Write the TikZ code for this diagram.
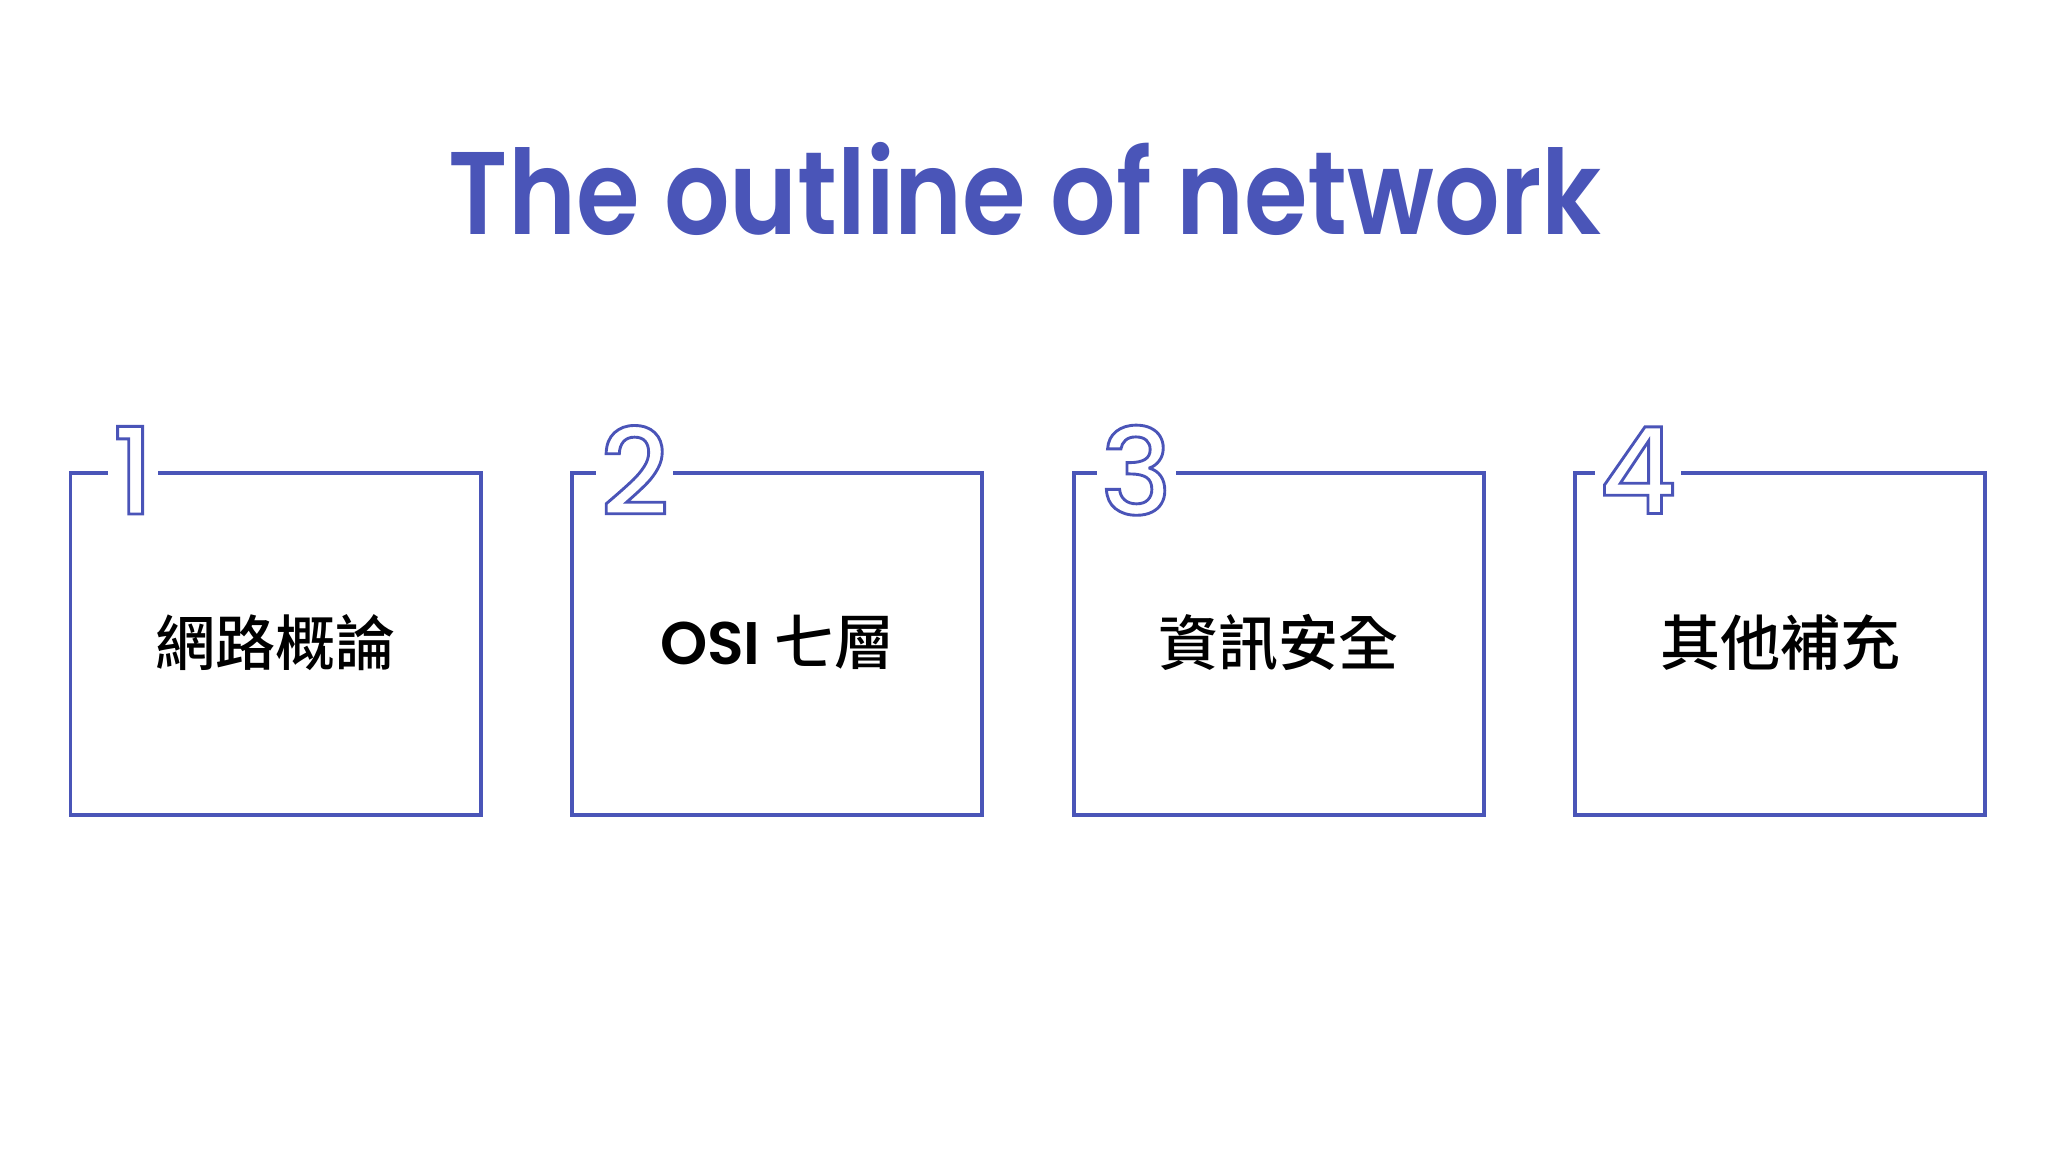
\documentclass[tikz,border=0pt]{standalone}
\usepackage{fontspec}
\setmainfont{Poppins}
\newfontfamily\cjk{Noto Sans CJK TC Medium}
\newfontfamily\popsb{Poppins SemiBold}
\newfontfamily\popmed{Poppins Medium}
\definecolor{ink}{HTML}{4A55B8}
\newcommand{\outl}[1]{\special{pdf:literal direct 1 Tr 2.2 w 0.29 0.33 0.72 RG}#1\special{pdf:literal direct 0 Tr}}
\begin{document}
\begin{tikzpicture}[x=1pt,y=-1pt,
  card/.style={draw=ink,line width=3pt},
  numlbl/.style={fill=white,inner sep=3pt,font=\popmed\fontsize{92}{92}\selectfont},
  lbl/.style={font=\cjk\fontsize{46}{46}\selectfont}]
\useasboundingbox (0,0) rectangle (1568,882);
\node[text=ink,font=\popsb\fontsize{90}{90}\selectfont,xscale=0.875] (title) at (785,145) {The outline of network};
\foreach \i/\x/\t in {1/54/網路概論,2/438/{\popsb OSI} 七層,3/822/資訊安全,4/1206/其他補充}{
  \draw[card] (\x,362) rectangle ++(314,262);
  \node[lbl] (t\i) at (\x+157,492) {\t};
  \node[numlbl] (n\i) at (\x+48,360) {\outl{\i}};
}
\end{tikzpicture}
\end{document}
